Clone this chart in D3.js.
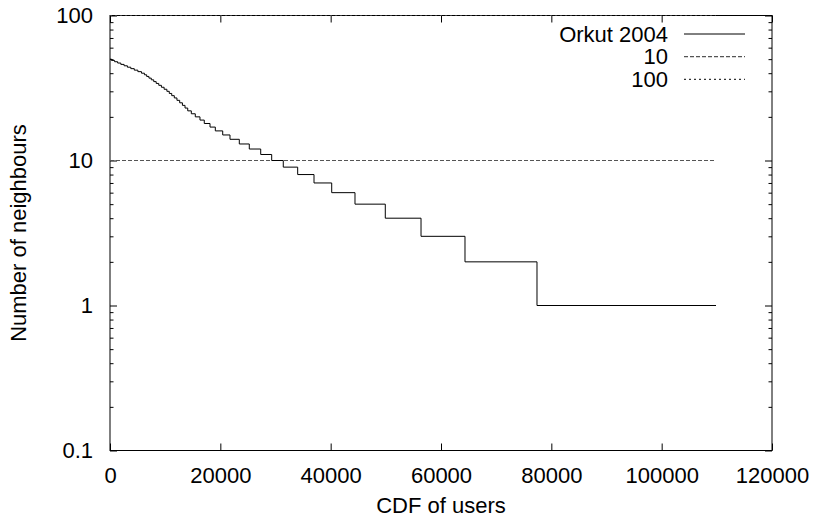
<!DOCTYPE html>
<html>
<head>
<meta charset="utf-8">
<script src="https://cdn.jsdelivr.net/npm/d3@7"></script>
<style>
  html, body { margin: 0; padding: 0; background: #fff; }
  svg { display: block; }
  text { font-family: "Liberation Sans", Arial, Helvetica, sans-serif; fill: #000; }
</style>
</head>
<body>
<svg id="chart" width="816" height="518"></svg>
<script>
// ---- data ----
const degreeLevels = [50,49,48,47,46,45,44,43,42,41,40,39,38,37,36,35,34,33,32,31,30,29,28,27,26,25,24,23,22,21,20,19,18,17,16,15,14,13,12,11,10,9,8,7,6,5,4,3,2,1];
const cdfEnd = [272,830,1390,1960,2555,3155,3770,4400,5050,5705,6240,6645,7060,7485,7925,8375,8840,9320,9810,10310,10745,11190,11655,12135,12630,13130,13600,14090,14740,15460,16310,17090,18130,19090,20430,21750,23440,25250,27320,29310,31410,34020,36980,40190,44410,49900,56380,64350,77400,109850];
const refLevels = [10, 100];
const refRange = [0, 109850];
const legendLabels = ["Orkut 2004", "10", "100"];
const xTicks = [0, 20000, 40000, 60000, 80000, 100000, 120000];
const yTicks = [0.1, 1, 10, 100];
const yTickLabels = ["0.1", "1", "10", "100"];
const yMinorTicks = [0.2,0.3,0.4,0.5,0.6,0.7,0.8,0.9,2,3,4,5,6,7,8,9,20,30,40,50,60,70,80,90];

// ---- layout ----
const L = 110, R = 772, T = 15.5, B = 450.5;
const svg = d3.select("#chart");
const x = d3.scaleLinear().domain([0, 120000]).range([L, R]);
const y = d3.scaleLog().domain([0.1, 100]).range([B, T]);
const FS = 22;

// axes
const gx = svg.append("g").attr("transform", `translate(0,${B})`)
  .call(d3.axisBottom(x).tickValues(xTicks).tickFormat(d3.format("d")).tickSize(-7).tickPadding(17));
const gxt = svg.append("g").attr("transform", `translate(0,${T})`)
  .call(d3.axisTop(x).tickValues(xTicks).tickFormat("").tickSize(-7));
const gy = svg.append("g").attr("transform", `translate(${L},0)`)
  .call(d3.axisLeft(y).tickValues(yTicks).tickFormat((d,i) => yTickLabels[i]).tickSize(-7).tickPadding(17));
const gyr = svg.append("g").attr("transform", `translate(${R},0)`)
  .call(d3.axisRight(y).tickValues(yTicks).tickFormat("").tickSize(-7));
const gym = svg.append("g").attr("transform", `translate(${L},0)`)
  .call(d3.axisLeft(y).tickValues(yMinorTicks).tickFormat("").tickSize(-3.5));
const gymr = svg.append("g").attr("transform", `translate(${R},0)`)
  .call(d3.axisRight(y).tickValues(yMinorTicks).tickFormat("").tickSize(-3.5));

[gx, gxt, gy, gyr, gym, gymr].forEach(g => {
  g.select(".domain").remove();
  g.selectAll("line").attr("stroke", "#000").attr("stroke-width", 1);
  g.selectAll("text").attr("font-size", FS).attr("font-family", '"Liberation Sans", Arial, sans-serif').attr("fill", "#000");
});

// border
svg.append("rect")
  .attr("x", L).attr("y", T).attr("width", R - L).attr("height", B - T)
  .attr("fill", "none").attr("stroke", "#000").attr("stroke-width", 1);

// reference lines
const refStyles = ["4,2", "2,3"];
refLevels.forEach((v, i) => {
  svg.append("path")
    .attr("d", d3.line()([[x(refRange[0]), y(v)], [x(refRange[1]), y(v)]]))
    .attr("stroke", i === 0 ? "#555" : "#333")
    .attr("stroke-width", 1.2)
    .attr("stroke-dasharray", refStyles[i])
    .attr("fill", "none");
});

// step curve
const pts = [[0, degreeLevels[0]]];
for (let i = 1; i < degreeLevels.length; i++) pts.push([cdfEnd[i - 1], degreeLevels[i]]);
pts.push([cdfEnd[cdfEnd.length - 1], degreeLevels[degreeLevels.length - 1]]);
svg.append("path")
  .attr("d", d3.line().x(d => x(d[0])).y(d => y(d[1])).curve(d3.curveStepAfter)(pts))
  .attr("fill", "none").attr("stroke", "#000").attr("stroke-width", 1);

// legend
const legDash = [null, "4,2", "2,3"];
legendLabels.forEach((lab, i) => {
  const yy = 34 + i * 22.7;
  svg.append("text").attr("x", 668).attr("y", yy + 7.7)
    .attr("text-anchor", "end").attr("font-size", FS).text(lab);
  svg.append("line").attr("x1", 684).attr("x2", 745).attr("y1", yy).attr("y2", yy)
    .attr("stroke", i === 0 ? "#000" : (i === 1 ? "#555" : "#333"))
    .attr("stroke-width", i === 0 ? 1 : 1.2)
    .attr("stroke-dasharray", legDash[i]);
});

// axis titles
svg.append("text").attr("x", (L + R) / 2).attr("y", 513)
  .attr("text-anchor", "middle").attr("font-size", FS).text("CDF of users");
svg.append("text").attr("transform", `translate(26,${(T + B) / 2}) rotate(-90)`)
  .attr("text-anchor", "middle").attr("font-size", FS).text("Number of neighbours");
</script>
</body>
</html>
